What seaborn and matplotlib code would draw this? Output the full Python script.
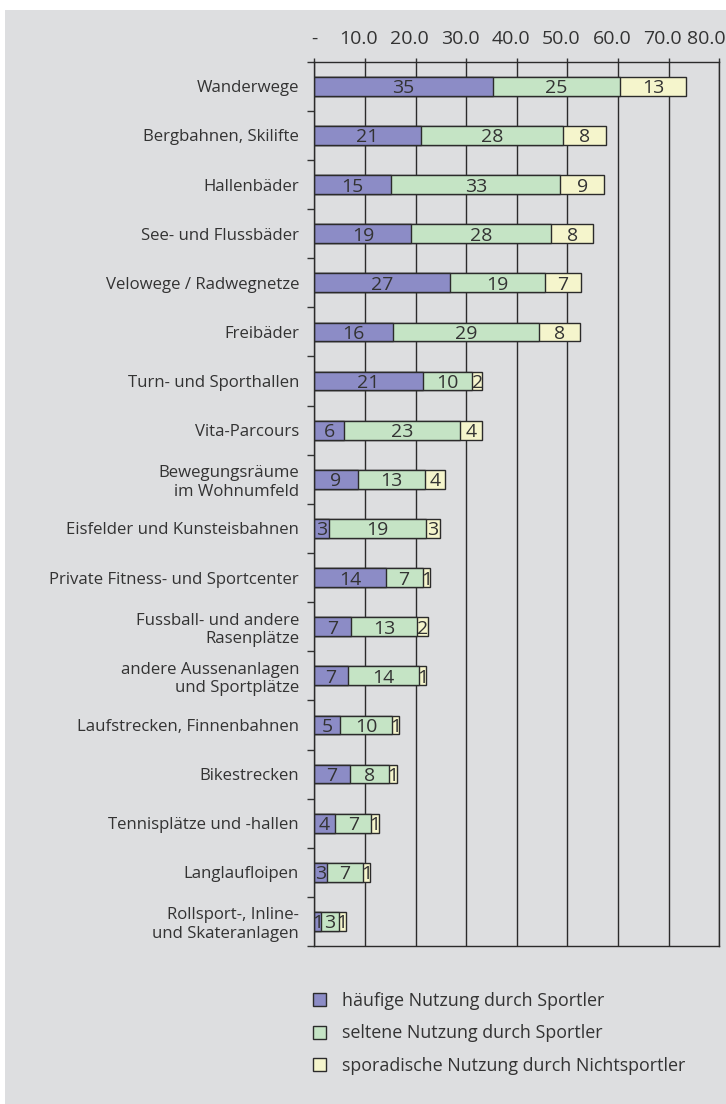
import numpy as np
import pandas as pd
import seaborn as sns
import matplotlib.pyplot as plt
import matplotlib.transforms as mtransforms
from matplotlib.patches import Patch, Rectangle

# ---- data
categories = [
    "Wanderwege",
    "Bergbahnen, Skilifte",
    "Hallenbäder",
    "See- und Flussbäder",
    "Velowege / Radwegnetze",
    "Freibäder",
    "Turn- und Sporthallen",
    "Vita-Parcours",
    "Bewegungsräume\nim Wohnumfeld",
    "Eisfelder und Kunsteisbahnen",
    "Private Fitness- und Sportcenter",
    "Fussball- und andere\nRasenplätze",
    "andere Aussenanlagen\nund Sportplätze",
    "Laufstrecken, Finnenbahnen",
    "Bikestrecken",
    "Tennisplätze und -hallen",
    "Langlaufloipen",
    "Rollsport-, Inline-\nund Skateranlagen",
]
haeufig = [35.2, 21.0, 15.2, 19.2, 26.8, 15.6, 21.4, 5.9, 8.6, 2.9, 14.1, 7.2, 6.6, 5.1, 7.0, 4.1, 2.6, 1.4]
selten = [25.2, 28.2, 33.4, 27.6, 18.8, 28.7, 9.8, 22.9, 13.2, 19.1, 7.3, 13.1, 14.1, 10.3, 7.8, 7.2, 7.0, 3.4]
sporadisch = [13.0, 8.4, 8.6, 8.3, 7.1, 8.1, 2.0, 4.3, 4.1, 2.9, 1.45, 2.1, 1.45, 1.4, 1.45, 1.45, 1.45, 1.4]

series_names = [
    "häufige Nutzung durch Sportler",
    "seltene Nutzung durch Sportler",
    "sporadische Nutzung durch Nichtsportler",
]
x_ticks = [0, 10, 20, 30, 40, 50, 60, 70, 80]
x_ticklabels = ["-", "10.0", "20.0", "30.0", "40.0", "50.0", "60.0", "70.0", "80.0"]

colors = ["#8c8cc6", "#c5e4c5", "#f5f5cc"]
bg = "#dddee0"
ink = "#333333"

sns.set_theme(style="white")
plt.rcParams['font.family'] = ['Open Sans', 'DejaVu Sans']

df = pd.DataFrame({"Kategorie": categories, "h": haeufig, "s": selten, "p": sporadisch})
df["c1"] = df["h"]
df["c2"] = df["c1"] + df["s"]
df["c3"] = df["c2"] + df["p"]

fig = plt.figure(figsize=(7.26, 11.04), dpi=100, facecolor="white")
fig.patches.append(Rectangle((5 / 726, 0), 1, 1 - 10 / 1104, transform=fig.transFigure,
                             facecolor=bg, edgecolor="none", zorder=-10))

ax = fig.add_axes([0.4329, 0.1431, 0.5579, 0.8010])
ax.set_facecolor("none")

# stacked bars: draw cumulative totals back to front
for col, c in zip(["c3", "c2", "c1"], colors[::-1]):
    sns.barplot(data=df, x=col, y="Kategorie", color=c, orient="h", width=0.38,
                edgecolor="#2b2b2b", linewidth=1, saturation=1, ax=ax)

# segment labels
for i, row in df.iterrows():
    for start, val in [(0, row["h"]), (row["c1"], row["s"]), (row["c2"], row["p"])]:
        ax.text(start + val / 2, i, f"{val:.0f}", ha="center", va="center_baseline",
                fontsize=14, color=ink)

ax.set_xlim(0, 80)
ax.set_ylim(17.5, -0.5)
ax.set_xlabel("")
ax.set_ylabel("")

ax.xaxis.tick_top()
ax.set_xticks(x_ticks, x_ticklabels)
ax.tick_params(axis="x", top=True, bottom=False, length=3, width=1, color=ink,
               pad=7, labelsize=14, labelcolor=ink)
# labels sit a little left of their ticks; the last one is pushed in from the edge
shift = mtransforms.ScaledTranslation(-6 / 100, 0, fig.dpi_scale_trans)
xlabels = ax.get_xticklabels()
for t in xlabels[1:-1]:
    t.set_transform(t.get_transform() + shift)
last = xlabels[-1]
last.set_horizontalalignment("right")
last.set_transform(last.get_transform() + mtransforms.ScaledTranslation(6 / 100, 0, fig.dpi_scale_trans))

ax.set_yticks(np.arange(-0.5, 18, 1), minor=True)
ax.tick_params(axis="y", which="minor", left=True, length=5, width=1, color=ink)
ax.tick_params(axis="y", which="major", left=False, length=0, pad=11,
               labelsize=12.1, labelcolor=ink)
for t in ax.get_yticklabels():
    t.set_multialignment("right")

ax.set_axisbelow(True)
ax.grid(axis="x", color="#2b2b2b", linewidth=1)
ax.grid(axis="y", visible=False)
for sp in ax.spines.values():
    sp.set_color("#2b2b2b")
    sp.set_linewidth(1)

handles = [Patch(facecolor=c, edgecolor="#2b2b2b", linewidth=1) for c in colors]
fig.legend(handles, series_names, loc="upper left", bbox_to_anchor=(0.4307, 0.1015),
           frameon=False, borderpad=0, borderaxespad=0, handlelength=0.74,
           handleheight=0.74, handletextpad=0.92, labelspacing=0.8, fontsize=12.9,
           labelcolor=ink)

fig.savefig("out.png", dpi=100)
